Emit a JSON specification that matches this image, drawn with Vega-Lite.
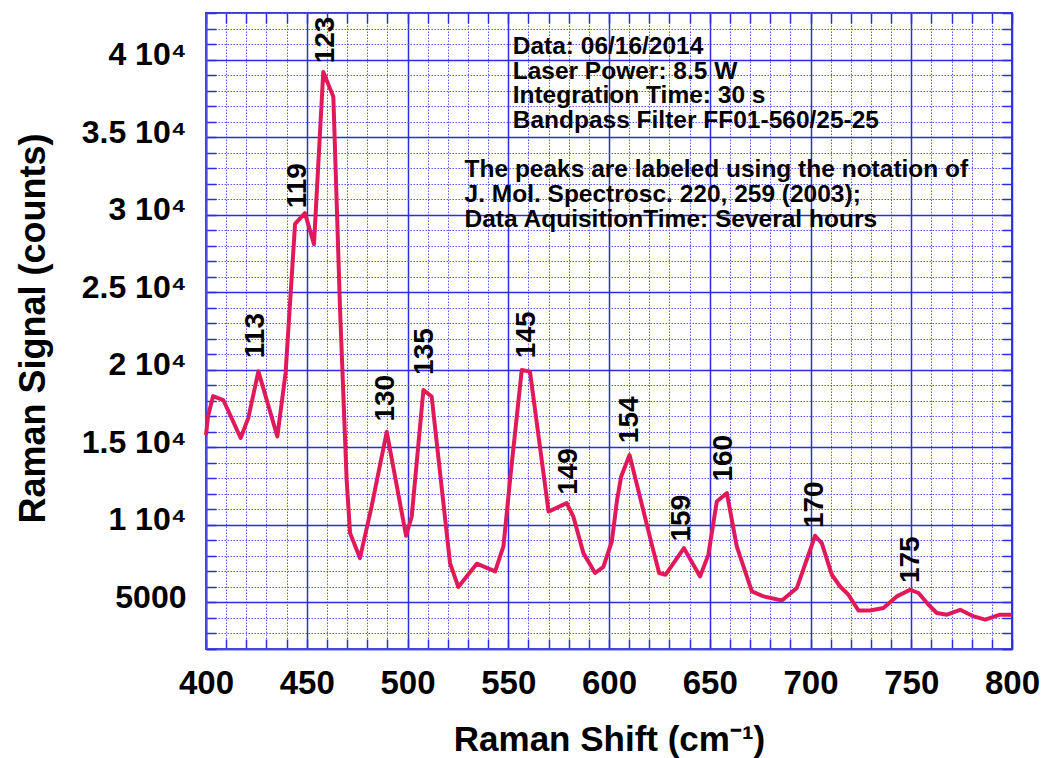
{
  "$schema": "https://vega.github.io/schema/vega-lite/v6.json",
  "width": 806,
  "height": 636,
  "autosize": "none",
  "padding": {"left": 206, "top": 13, "right": 29, "bottom": 109},
  "background": "white",
  "config": {"view": {"stroke": "#3c3cdc", "strokeWidth": 2}, "font": "Liberation Sans"},
  "datasets": {
    "spectrum": [
      {"shift": 400, "signal": 15800}, {"shift": 401, "signal": 17000}, {"shift": 403.5, "signal": 18300},
      {"shift": 408.6, "signal": 18050}, {"shift": 417.2, "signal": 15600}, {"shift": 421, "signal": 16900},
      {"shift": 426, "signal": 19900}, {"shift": 435.4, "signal": 15700}, {"shift": 439.5, "signal": 19800},
      {"shift": 444.2, "signal": 29400}, {"shift": 449.1, "signal": 30100}, {"shift": 453.6, "signal": 28100},
      {"shift": 458.2, "signal": 39200}, {"shift": 463.2, "signal": 37600}, {"shift": 466.5, "signal": 24000},
      {"shift": 469.8, "signal": 12900}, {"shift": 471.5, "signal": 9470}, {"shift": 476.4, "signal": 7860},
      {"shift": 482.2, "signal": 11190}, {"shift": 489.7, "signal": 16000}, {"shift": 499.3, "signal": 9300},
      {"shift": 502.1, "signal": 10540}, {"shift": 507.9, "signal": 18700}, {"shift": 512, "signal": 18270},
      {"shift": 521.1, "signal": 7540}, {"shift": 525.2, "signal": 6000}, {"shift": 534.4, "signal": 7500},
      {"shift": 543.5, "signal": 7000}, {"shift": 547.6, "signal": 8610}, {"shift": 550.9, "signal": 12900},
      {"shift": 556.7, "signal": 19990}, {"shift": 560.8, "signal": 19880}, {"shift": 570, "signal": 10860},
      {"shift": 579, "signal": 11400}, {"shift": 582.3, "signal": 10540}, {"shift": 587.3, "signal": 8180},
      {"shift": 593.1, "signal": 6900}, {"shift": 597.2, "signal": 7300}, {"shift": 601.4, "signal": 8930},
      {"shift": 604, "signal": 11600}, {"shift": 606, "signal": 13100}, {"shift": 610.2, "signal": 14500},
      {"shift": 621.5, "signal": 8600}, {"shift": 624.9, "signal": 6900}, {"shift": 628.1, "signal": 6790},
      {"shift": 637.2, "signal": 8500}, {"shift": 645.2, "signal": 6680}, {"shift": 649.3, "signal": 8070},
      {"shift": 653.5, "signal": 11510}, {"shift": 658.5, "signal": 12050}, {"shift": 663.4, "signal": 8610},
      {"shift": 670.9, "signal": 5710}, {"shift": 676.7, "signal": 5390}, {"shift": 685.8, "signal": 5130},
      {"shift": 693.2, "signal": 5930}, {"shift": 702.3, "signal": 9300}, {"shift": 705.6, "signal": 8830},
      {"shift": 710.6, "signal": 6785}, {"shift": 714.7, "signal": 6030}, {"shift": 718.8, "signal": 5500},
      {"shift": 723.8, "signal": 4480}, {"shift": 729.6, "signal": 4480}, {"shift": 736.2, "signal": 4640},
      {"shift": 742.8, "signal": 5390}, {"shift": 749.5, "signal": 5820}, {"shift": 753.6, "signal": 5610},
      {"shift": 758.6, "signal": 4850}, {"shift": 762.7, "signal": 4320}, {"shift": 767.7, "signal": 4210},
      {"shift": 774.3, "signal": 4530}, {"shift": 781, "signal": 4100}, {"shift": 786.7, "signal": 3890},
      {"shift": 794.1, "signal": 4210}, {"shift": 800, "signal": 4210}
    ],
    "peaks": [
      {"shift": 424.7, "signal": 20747, "label": "113"},
      {"shift": 445.8, "signal": 30411, "label": "119"},
      {"shift": 459.4, "signal": 39754, "label": "123"},
      {"shift": 489.2, "signal": 16662, "label": "130"},
      {"shift": 508.6, "signal": 19671, "label": "135"},
      {"shift": 559.1, "signal": 20747, "label": "145"},
      {"shift": 580.2, "signal": 11939, "label": "149"},
      {"shift": 610.4, "signal": 15270, "label": "154"},
      {"shift": 636.4, "signal": 8930, "label": "159"},
      {"shift": 657.1, "signal": 12796, "label": "160"},
      {"shift": 702.2, "signal": 9794, "label": "170"},
      {"shift": 749.8, "signal": 6250, "label": "175"}
    ],
    "notes": [
      {"shift": 552.2, "signal": 40353, "label": "Data: 06/16/2014"},
      {"shift": 552.2, "signal": 38723, "label": "Laser Power: 8.5 W"},
      {"shift": 552.2, "signal": 37177, "label": "Integration Time: 30 s"},
      {"shift": 552.2, "signal": 35566, "label": "Bandpass Filter FF01-560/25-25"},
      {"shift": 528.3, "signal": 32447, "label": "The peaks are labeled using the notation of"},
      {"shift": 528.3, "signal": 30837, "label": "J. Mol. Spectrosc. 220, 259 (2003);"},
      {"shift": 528.3, "signal": 29226, "label": "Data AquisitionTime: Several hours"}
    ]
  },
  "resolve": {"axis": {"x": "independent", "y": "independent"}},
  "layer": [
    {
      "data": {"name": "spectrum"},
      "mark": {"type": "line", "color": "#e0195a", "strokeWidth": 4, "strokeJoin": "round"},
      "encoding": {
        "x": {
          "field": "shift", "type": "quantitative",
          "scale": {"domain": [400, 800], "nice": false, "zero": false},
          "axis": {
            "orient": "bottom",
            "title": "Raman Shift (cm⁻¹)",
            "values": [400,410,420,430,440,450,460,470,480,490,500,510,520,530,540,550,560,570,580,590,600,610,620,630,640,650,660,670,680,690,700,710,720,730,740,750,760,770,780,790,800],
            "format": "d",
            "labelExpr": "datum.value % 50 === 0 ? datum.label : ''",
            "labelFont": "Liberation Sans", "labelFontWeight": "bold", "labelFontSize": 33, "labelColor": "black",
            "labelPadding": 28, "labelOverlap": false, "labelFlush": false,
            "grid": true,
            "gridColor": {"condition": {"test": "datum.value % 50 === 0", "value": "#2c2ce0"}, "value": "#5a5aff"},
            "gridDash": {"condition": {"test": "datum.value % 50 === 0", "value": [1, 0]}, "value": [1.5, 1.5]},
            "gridWidth": {"condition": {"test": "datum.value % 50 === 0", "value": 1.5}, "value": 1},
            "ticks": true, "tickSize": -10, "tickColor": "#2c2ce0", "tickWidth": 1.5,
            "domainColor": "#4a4ae6", "domainWidth": 2,
            "titleFont": "Liberation Sans", "titleFontWeight": "bold", "titleFontSize": 35, "titleColor": "black",
            "titleY": 101, "titleBaseline": "alphabetic"
          }
        },
        "y": {
          "field": "signal", "type": "quantitative",
          "scale": {"domain": [2000, 43000], "nice": false, "zero": false},
          "axis": {
            "orient": "left",
            "title": "Raman Signal (counts)",
            "values": [2000,3000,4000,5000,6000,7000,8000,9000,10000,11000,12000,13000,14000,15000,16000,17000,18000,19000,20000,21000,22000,23000,24000,25000,26000,27000,28000,29000,30000,31000,32000,33000,34000,35000,36000,37000,38000,39000,40000,41000,42000,43000],
            "labelExpr": "datum.value === 5000 ? '5000' : ((datum.value % 5000 === 0 && datum.value > 5000) ? (datum.value / 10000) + ' 10⁴' : '')",
            "labelFont": "Liberation Sans", "labelFontWeight": "bold", "labelFontSize": 32, "labelColor": "black",
            "labelPadding": 30, "labelOffset": -5, "labelOverlap": false, "labelFlush": false,
            "grid": true,
            "gridColor": {"condition": {"test": "datum.value % 5000 === 0", "value": "#2c2ce0"}, "value": "#5a5aff"},
            "gridDash": {"condition": {"test": "datum.value % 5000 === 0", "value": [1, 0]}, "value": [1.5, 1.5]},
            "gridWidth": {"condition": {"test": "datum.value % 5000 === 0", "value": 1.5}, "value": 1},
            "ticks": true, "tickSize": -10, "tickColor": "#2c2ce0", "tickWidth": 1.5,
            "domainColor": "#4a4ae6", "domainWidth": 2,
            "titleFont": "Liberation Sans", "titleFontWeight": "bold", "titleFontSize": 36, "titleColor": "black",
            "titleX": -154, "titleY": 315
          }
        }
      }
    },
    {
      "data": {"name": "peaks"},
      "mark": {"type": "text", "angle": 270, "align": "left", "baseline": "middle", "font": "Liberation Sans", "fontWeight": "bold", "fontSize": 28, "color": "black"},
      "encoding": {
        "x": {"field": "shift", "type": "quantitative",
          "axis": {"orient": "top", "title": null, "labels": false, "grid": false, "domain": false,
            "values": [400,410,420,430,440,450,460,470,480,490,500,510,520,530,540,550,560,570,580,590,600,610,620,630,640,650,660,670,680,690,700,710,720,730,740,750,760,770,780,790,800],
            "ticks": true, "tickSize": -10, "tickColor": "#2c2ce0", "tickWidth": 1.5}},
        "y": {"field": "signal", "type": "quantitative",
          "axis": {"orient": "right", "title": null, "labels": false, "grid": false, "domain": false,
            "values": [2000,3000,4000,5000,6000,7000,8000,9000,10000,11000,12000,13000,14000,15000,16000,17000,18000,19000,20000,21000,22000,23000,24000,25000,26000,27000,28000,29000,30000,31000,32000,33000,34000,35000,36000,37000,38000,39000,40000,41000,42000,43000],
            "ticks": true, "tickSize": -10, "tickColor": "#2c2ce0", "tickWidth": 1.5}},
        "text": {"field": "label", "type": "nominal"}
      }
    },
    {
      "data": {"name": "notes"},
      "mark": {"type": "text", "align": "left", "baseline": "alphabetic", "font": "Liberation Sans", "fontWeight": "bold", "fontSize": 24.5, "color": "black"},
      "encoding": {
        "x": {"field": "shift", "type": "quantitative", "axis": null},
        "y": {"field": "signal", "type": "quantitative", "axis": null},
        "text": {"field": "label", "type": "nominal"}
      }
    }
  ]
}
